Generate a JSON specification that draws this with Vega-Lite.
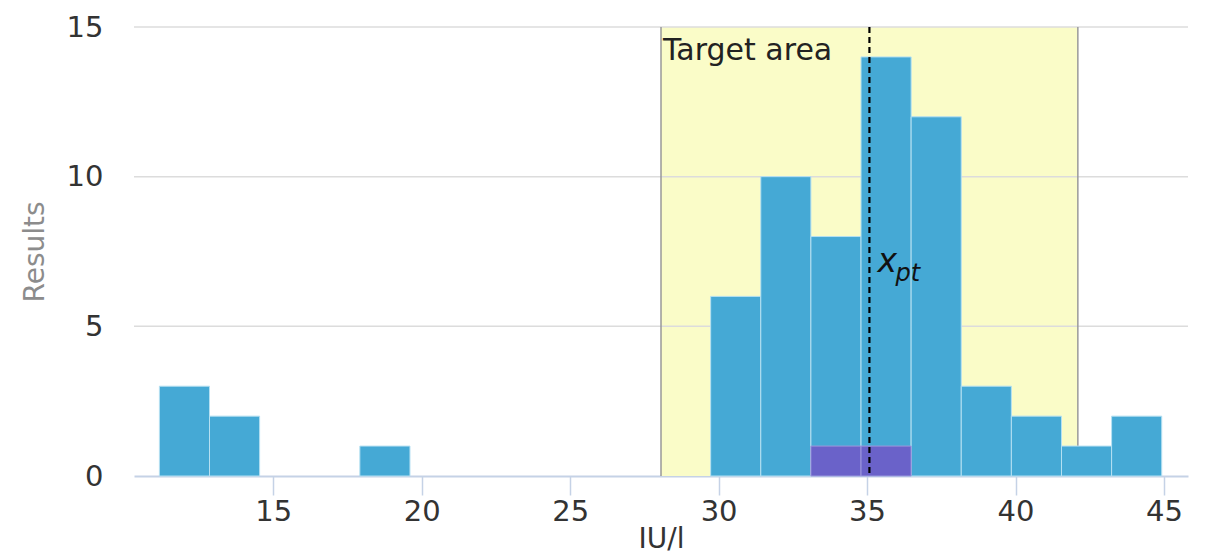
{
  "$schema": "https://vega.github.io/schema/vega-lite/v6.json",
  "width": 1054,
  "height": 449,
  "autosize": "none",
  "padding": {"left": 134, "top": 27, "right": 23, "bottom": 75},
  "background": "#ffffff",
  "config": {
    "view": {"stroke": null},
    "font": "DejaVu Sans",
    "axis": {"labelFont": "DejaVu Sans", "titleFont": "DejaVu Sans", "labelFontSize": 29, "titleFontSize": 28, "titleFontWeight": "normal", "labelColor": "#333333"}
  },
  "datasets": {
    "bins": [
      {"x0": 11.165, "x1": 12.853, "n": 3},
      {"x0": 12.853, "x1": 14.541, "n": 2},
      {"x0": 17.917, "x1": 19.605, "n": 1},
      {"x0": 29.733, "x1": 31.421, "n": 6},
      {"x0": 31.421, "x1": 33.109, "n": 10},
      {"x0": 33.109, "x1": 34.797, "n": 8},
      {"x0": 34.797, "x1": 36.485, "n": 14},
      {"x0": 36.485, "x1": 38.173, "n": 12},
      {"x0": 38.173, "x1": 39.861, "n": 3},
      {"x0": 39.861, "x1": 41.549, "n": 2},
      {"x0": 41.549, "x1": 43.237, "n": 1},
      {"x0": 43.237, "x1": 44.925, "n": 2}
    ],
    "own": [
      {"x0": 33.109, "x1": 34.797, "n": 1},
      {"x0": 34.797, "x1": 36.485, "n": 1}
    ],
    "target": [{"lo": 28.06, "hi": 42.1, "label": "Target area", "ly": 13.9}],
    "limits": [{"v": 28.06}, {"v": 42.1}],
    "grid": [{"g": 5}, {"g": 10}, {"g": 15}],
    "xpt": [{"v": 35.08, "ly": 6.83}]
  },
  "layer": [
    {
      "data": {"name": "target"},
      "mark": {"type": "rect", "fill": "#fafcc8"},
      "encoding": {
        "x": {"field": "lo", "type": "quantitative",
          "scale": {"domain": [10.31, 45.81], "nice": false, "zero": false},
          "axis": {"title": "IU/l", "values": [15, 20, 25, 30, 35, 40, 45], "grid": false,
            "domainColor": "#c5d2e6", "domainWidth": 2, "tickColor": "#c5d2e6", "tickWidth": 1.5, "tickSize": 19,
            "labelPadding": 2, "titleColor": "#333333", "titleY": 71, "titleBaseline": "alphabetic"}},
        "x2": {"field": "hi"}
      }
    },
    {
      "data": {"name": "grid"},
      "mark": {"type": "rule", "stroke": "#dcdcdc", "strokeWidth": 1.5},
      "encoding": {
        "y": {"field": "g", "type": "quantitative",
          "scale": {"domain": [0, 15], "nice": false},
          "axis": {"title": "Results", "values": [0, 5, 10, 15], "grid": false, "domain": false, "ticks": false,
            "labelPadding": 31, "titleColor": "#8c8c8c", "titleX": -91, "titleBaseline": "alphabetic"}}
      }
    },
    {
      "data": {"name": "limits"},
      "mark": {"type": "rule", "stroke": "#999999", "strokeWidth": 1.5},
      "encoding": {"x": {"field": "v", "type": "quantitative"}}
    },
    {
      "data": {"name": "bins"},
      "mark": {"type": "rect", "fill": "#45a9d5", "stroke": "#b5e0f2", "strokeWidth": 1},
      "encoding": {
        "x": {"field": "x0", "type": "quantitative"},
        "x2": {"field": "x1"},
        "y": {"field": "n", "type": "quantitative"},
        "y2": {"datum": 0}
      }
    },
    {
      "data": {"name": "own"},
      "mark": {"type": "rect", "fill": "#6a62c9", "stroke": "#9d98dc", "strokeWidth": 1},
      "encoding": {
        "x": {"field": "x0", "type": "quantitative"},
        "x2": {"field": "x1"},
        "y": {"field": "n", "type": "quantitative"},
        "y2": {"datum": 0}
      }
    },
    {
      "data": {"name": "xpt"},
      "mark": {"type": "rule", "stroke": "#000000", "strokeWidth": 2.2, "strokeDash": [6, 4]},
      "encoding": {"x": {"field": "v", "type": "quantitative"}}
    },
    {
      "data": {"name": "target"},
      "mark": {"type": "text", "align": "left", "baseline": "alphabetic", "dx": 2, "fontSize": 30, "font": "DejaVu Sans", "color": "#222222"},
      "encoding": {
        "x": {"field": "lo", "type": "quantitative"},
        "y": {"field": "ly", "type": "quantitative"},
        "text": {"field": "label"}
      }
    },
    {
      "data": {"name": "xpt"},
      "mark": {"type": "text", "align": "left", "baseline": "alphabetic", "dx": 8, "fontSize": 33, "fontStyle": "italic", "font": "DejaVu Sans", "color": "#111111", "text": "x"},
      "encoding": {
        "x": {"field": "v", "type": "quantitative"},
        "y": {"field": "ly", "type": "quantitative"}
      }
    },
    {
      "data": {"name": "xpt"},
      "mark": {"type": "text", "align": "left", "baseline": "alphabetic", "dx": 26, "dy": 9, "fontSize": 24, "fontStyle": "italic", "font": "DejaVu Sans", "color": "#111111", "text": "pt"},
      "encoding": {
        "x": {"field": "v", "type": "quantitative"},
        "y": {"field": "ly", "type": "quantitative"}
      }
    }
  ]
}
